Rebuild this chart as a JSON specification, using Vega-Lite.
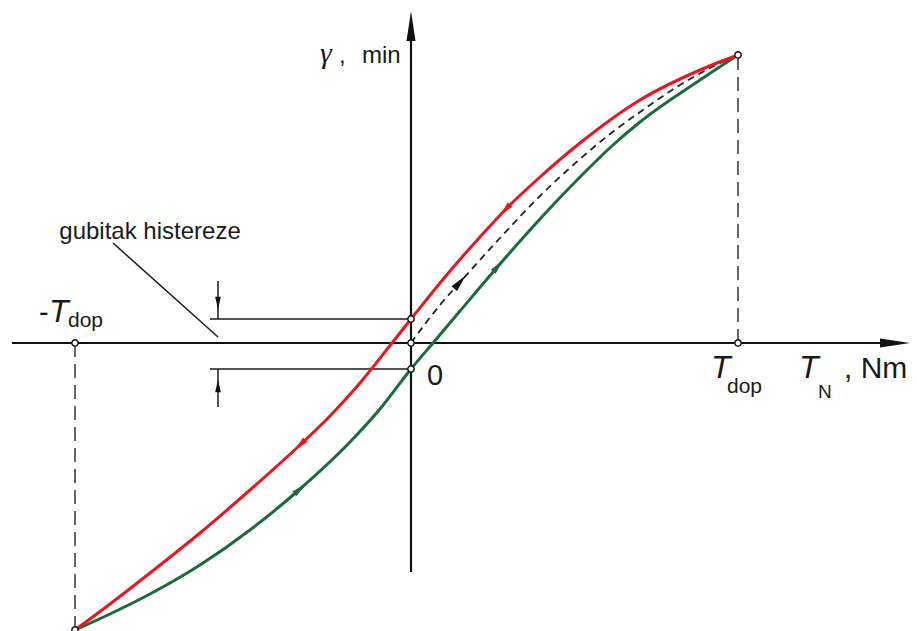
{
  "$schema": "https://vega.github.io/schema/vega-lite/v6.json",
  "width": 917,
  "height": 631,
  "autosize": {"type": "none"},
  "padding": 0,
  "background": "white",
  "config": {"view": {"stroke": null}},
  "datasets": {
    "red": [
      {"T": -336, "g": -287}, {"T": -301, "g": -261}, {"T": -261, "g": -230}, {"T": -211, "g": -190},
      {"T": -161, "g": -147}, {"T": -111, "g": -102}, {"T": -81, "g": -73}, {"T": -51, "g": -40},
      {"T": -19, "g": 0}, {"T": 0, "g": 24}, {"T": 39, "g": 72},
      {"T": 69, "g": 106}, {"T": 96, "g": 135}, {"T": 129, "g": 166}, {"T": 169, "g": 200},
      {"T": 229, "g": 243}, {"T": 289, "g": 273}, {"T": 327, "g": 288}
    ],
    "green": [
      {"T": -336, "g": -287}, {"T": -301, "g": -271}, {"T": -261, "g": -251}, {"T": -211, "g": -222},
      {"T": -161, "g": -187}, {"T": -111, "g": -146}, {"T": -61, "g": -99}, {"T": -31, "g": -66},
      {"T": 0, "g": -26}, {"T": 22, "g": 0}, {"T": 49, "g": 32}, {"T": 89, "g": 79},
      {"T": 129, "g": 124}, {"T": 169, "g": 166}, {"T": 202, "g": 198}, {"T": 229, "g": 221},
      {"T": 289, "g": 263}, {"T": 327, "g": 288}
    ],
    "virgin": [
      {"T": 0, "g": 0}, {"T": 14, "g": 19}, {"T": 29, "g": 38}, {"T": 51, "g": 63},
      {"T": 89, "g": 105}, {"T": 129, "g": 147}, {"T": 169, "g": 184}, {"T": 199, "g": 209},
      {"T": 229, "g": 231}, {"T": 269, "g": 258}, {"T": 299, "g": 275}, {"T": 327, "g": 288}
    ],
    "axes": [
      {"T": -399, "g": 0, "T2": 474, "g2": 0},
      {"T": 0, "g": -229, "T2": 0, "g2": 310}
    ],
    "dims": [
      {"T": -201, "g": 24, "T2": 0, "g2": 24},
      {"T": -201, "g": -26, "T2": 0, "g2": -26},
      {"T": -193, "g": 62, "T2": -193, "g2": 24},
      {"T": -193, "g": -26, "T2": -193, "g2": -64},
      {"T": -298, "g": 100, "T2": -193, "g2": 6}
    ],
    "drops": [
      {"T": 327, "g": 0, "T2": 327, "g2": 288},
      {"T": -336, "g": 0, "T2": -336, "g2": -287}
    ],
    "axisArrows": [
      {"T": 484, "g": 0, "dir": 90},
      {"T": 0, "g": 317, "dir": 0}
    ],
    "dimArrows": [
      {"T": -193, "g": 40, "dir": 180},
      {"T": -193, "g": -43, "dir": 0}
    ],
    "redArrows": [
      {"T": -111, "g": -102, "dir": 225},
      {"T": 94, "g": 133, "dir": 223}
    ],
    "greenArrows": [
      {"T": -111, "g": -146, "dir": 50},
      {"T": 87, "g": 77, "dir": 40}
    ],
    "blackArrows": [
      {"T": 49, "g": 61, "dir": 41}
    ],
    "points": [
      {"T": 0, "g": 24}, {"T": 0, "g": 0}, {"T": 0, "g": -26},
      {"T": 327, "g": 288}, {"T": 327, "g": 0},
      {"T": -336, "g": 0}, {"T": -336, "g": -287}
    ],
    "bigItalic": [
      {"T": -362, "g": 21, "label": "T"},
      {"T": 300, "g": -35, "label": "T"},
      {"T": 388, "g": -35, "label": "T"}
    ],
    "subs": [
      {"T": -343, "g": 16, "label": "dop"},
      {"T": 316, "g": -50, "label": "dop"}
    ],
    "subN": [
      {"T": 407, "g": -55, "label": "N"}
    ],
    "units": [
      {"T": 16, "g": -42, "label": "0"},
      {"T": -372, "g": 21, "label": "-"}
    ],
    "unitNm": [
      {"T": 433, "g": -35, "label": ", Nm"}
    ],
    "ylabel": [
      {"T": -72, "g": 280, "label": ","},
      {"T": -49, "g": 280, "label": "min"}
    ],
    "gamma": [
      {"T": -91, "g": 280, "label": "γ"}
    ],
    "note": [
      {"T": -261, "g": 104, "label": "gubitak histereze"}
    ]
  },
  "layer": [
    {
      "data": {"name": "drops"},
      "mark": {"type": "rule", "color": "#666666", "strokeWidth": 2, "strokeDash": [14, 7]},
      "encoding": {
        "x": {"field": "T", "type": "quantitative", "scale": {"domain": [-411, 506], "nice": false, "zero": false}, "axis": null},
        "x2": {"field": "T2"},
        "y": {"field": "g", "type": "quantitative", "scale": {"domain": [-288, 343], "nice": false, "zero": false}, "axis": null},
        "y2": {"field": "g2"}
      }
    },
    {
      "data": {"name": "dims"},
      "mark": {"type": "rule", "color": "#1a1a1a", "strokeWidth": 1.5},
      "encoding": {
        "x": {"field": "T", "type": "quantitative", "scale": {"domain": [-411, 506], "nice": false, "zero": false}, "axis": null},
        "x2": {"field": "T2"},
        "y": {"field": "g", "type": "quantitative", "scale": {"domain": [-288, 343], "nice": false, "zero": false}, "axis": null},
        "y2": {"field": "g2"}
      }
    },
    {
      "data": {"name": "axes"},
      "mark": {"type": "rule", "color": "#111111", "strokeWidth": 2.2},
      "encoding": {
        "x": {"field": "T", "type": "quantitative", "scale": {"domain": [-411, 506], "nice": false, "zero": false}, "axis": null},
        "x2": {"field": "T2"},
        "y": {"field": "g", "type": "quantitative", "scale": {"domain": [-288, 343], "nice": false, "zero": false}, "axis": null},
        "y2": {"field": "g2"}
      }
    },
    {
      "data": {"name": "virgin"},
      "mark": {"type": "line", "color": "#222222", "strokeWidth": 1.8, "strokeDash": [7, 5], "interpolate": "monotone"},
      "encoding": {
        "x": {"field": "T", "type": "quantitative", "scale": {"domain": [-411, 506], "nice": false, "zero": false}, "axis": null},
        "y": {"field": "g", "type": "quantitative", "scale": {"domain": [-288, 343], "nice": false, "zero": false}, "axis": null}
      }
    },
    {
      "data": {"name": "green"},
      "mark": {"type": "line", "color": "#1b6b3a", "strokeWidth": 3, "interpolate": "monotone"},
      "encoding": {
        "x": {"field": "T", "type": "quantitative", "scale": {"domain": [-411, 506], "nice": false, "zero": false}, "axis": null},
        "y": {"field": "g", "type": "quantitative", "scale": {"domain": [-288, 343], "nice": false, "zero": false}, "axis": null}
      }
    },
    {
      "data": {"name": "red"},
      "mark": {"type": "line", "color": "#e8161e", "strokeWidth": 3, "interpolate": "monotone"},
      "encoding": {
        "x": {"field": "T", "type": "quantitative", "scale": {"domain": [-411, 506], "nice": false, "zero": false}, "axis": null},
        "y": {"field": "g", "type": "quantitative", "scale": {"domain": [-288, 343], "nice": false, "zero": false}, "axis": null}
      }
    },
    {
      "data": {"name": "axisArrows"},
      "mark": {"type": "point", "shape": "M0,-1L0.3,1L-0.3,1Z", "filled": true, "color": "#111111", "opacity": 1, "size": 900},
      "encoding": {
        "x": {"field": "T", "type": "quantitative", "scale": {"domain": [-411, 506], "nice": false, "zero": false}, "axis": null},
        "y": {"field": "g", "type": "quantitative", "scale": {"domain": [-288, 343], "nice": false, "zero": false}, "axis": null},
        "angle": {"field": "dir", "type": "quantitative", "scale": null}
      }
    },
    {
      "data": {"name": "dimArrows"},
      "mark": {"type": "point", "shape": "M0,-1L0.45,1L-0.45,1Z", "filled": true, "color": "#111111", "opacity": 1, "size": 160},
      "encoding": {
        "x": {"field": "T", "type": "quantitative", "scale": {"domain": [-411, 506], "nice": false, "zero": false}, "axis": null},
        "y": {"field": "g", "type": "quantitative", "scale": {"domain": [-288, 343], "nice": false, "zero": false}, "axis": null},
        "angle": {"field": "dir", "type": "quantitative", "scale": null}
      }
    },
    {
      "data": {"name": "redArrows"},
      "mark": {"type": "point", "shape": "M0,-1L0.42,1L-0.42,1Z", "filled": true, "color": "#e8161e", "opacity": 1, "size": 220},
      "encoding": {
        "x": {"field": "T", "type": "quantitative", "scale": {"domain": [-411, 506], "nice": false, "zero": false}, "axis": null},
        "y": {"field": "g", "type": "quantitative", "scale": {"domain": [-288, 343], "nice": false, "zero": false}, "axis": null},
        "angle": {"field": "dir", "type": "quantitative", "scale": null}
      }
    },
    {
      "data": {"name": "greenArrows"},
      "mark": {"type": "point", "shape": "M0,-1L0.42,1L-0.42,1Z", "filled": true, "color": "#1b6b3a", "opacity": 1, "size": 220},
      "encoding": {
        "x": {"field": "T", "type": "quantitative", "scale": {"domain": [-411, 506], "nice": false, "zero": false}, "axis": null},
        "y": {"field": "g", "type": "quantitative", "scale": {"domain": [-288, 343], "nice": false, "zero": false}, "axis": null},
        "angle": {"field": "dir", "type": "quantitative", "scale": null}
      }
    },
    {
      "data": {"name": "blackArrows"},
      "mark": {"type": "point", "shape": "M0,-1L0.42,1L-0.42,1Z", "filled": true, "color": "#111111", "opacity": 1, "size": 300},
      "encoding": {
        "x": {"field": "T", "type": "quantitative", "scale": {"domain": [-411, 506], "nice": false, "zero": false}, "axis": null},
        "y": {"field": "g", "type": "quantitative", "scale": {"domain": [-288, 343], "nice": false, "zero": false}, "axis": null},
        "angle": {"field": "dir", "type": "quantitative", "scale": null}
      }
    },
    {
      "data": {"name": "points"},
      "mark": {"type": "point", "shape": "circle", "filled": false, "fill": "white", "fillOpacity": 1, "stroke": "#111111", "strokeWidth": 1.5, "opacity": 1, "size": 40},
      "encoding": {
        "x": {"field": "T", "type": "quantitative", "scale": {"domain": [-411, 506], "nice": false, "zero": false}, "axis": null},
        "y": {"field": "g", "type": "quantitative", "scale": {"domain": [-288, 343], "nice": false, "zero": false}, "axis": null}
      }
    },
    {
      "data": {"name": "bigItalic"},
      "mark": {"type": "text", "align": "left", "baseline": "alphabetic", "font": "Liberation Sans", "fontSize": 32, "fontStyle": "italic", "color": "#1a1a1a"},
      "encoding": {
        "x": {"field": "T", "type": "quantitative", "scale": {"domain": [-411, 506], "nice": false, "zero": false}, "axis": null},
        "y": {"field": "g", "type": "quantitative", "scale": {"domain": [-288, 343], "nice": false, "zero": false}, "axis": null},
        "text": {"field": "label"}
      }
    },
    {
      "data": {"name": "subs"},
      "mark": {"type": "text", "align": "left", "baseline": "alphabetic", "font": "Liberation Sans", "fontSize": 21, "color": "#1a1a1a"},
      "encoding": {
        "x": {"field": "T", "type": "quantitative", "scale": {"domain": [-411, 506], "nice": false, "zero": false}, "axis": null},
        "y": {"field": "g", "type": "quantitative", "scale": {"domain": [-288, 343], "nice": false, "zero": false}, "axis": null},
        "text": {"field": "label"}
      }
    },
    {
      "data": {"name": "subN"},
      "mark": {"type": "text", "align": "left", "baseline": "alphabetic", "font": "Liberation Sans", "fontSize": 19, "color": "#1a1a1a"},
      "encoding": {
        "x": {"field": "T", "type": "quantitative", "scale": {"domain": [-411, 506], "nice": false, "zero": false}, "axis": null},
        "y": {"field": "g", "type": "quantitative", "scale": {"domain": [-288, 343], "nice": false, "zero": false}, "axis": null},
        "text": {"field": "label"}
      }
    },
    {
      "data": {"name": "units"},
      "mark": {"type": "text", "align": "left", "baseline": "alphabetic", "font": "Liberation Sans", "fontSize": 29, "color": "#1a1a1a"},
      "encoding": {
        "x": {"field": "T", "type": "quantitative", "scale": {"domain": [-411, 506], "nice": false, "zero": false}, "axis": null},
        "y": {"field": "g", "type": "quantitative", "scale": {"domain": [-288, 343], "nice": false, "zero": false}, "axis": null},
        "text": {"field": "label"}
      }
    },
    {
      "data": {"name": "unitNm"},
      "mark": {"type": "text", "align": "left", "baseline": "alphabetic", "font": "Liberation Sans", "fontSize": 30, "color": "#1a1a1a"},
      "encoding": {
        "x": {"field": "T", "type": "quantitative", "scale": {"domain": [-411, 506], "nice": false, "zero": false}, "axis": null},
        "y": {"field": "g", "type": "quantitative", "scale": {"domain": [-288, 343], "nice": false, "zero": false}, "axis": null},
        "text": {"field": "label"}
      }
    },
    {
      "data": {"name": "ylabel"},
      "mark": {"type": "text", "align": "left", "baseline": "alphabetic", "font": "Liberation Sans", "fontSize": 24, "color": "#1a1a1a"},
      "encoding": {
        "x": {"field": "T", "type": "quantitative", "scale": {"domain": [-411, 506], "nice": false, "zero": false}, "axis": null},
        "y": {"field": "g", "type": "quantitative", "scale": {"domain": [-288, 343], "nice": false, "zero": false}, "axis": null},
        "text": {"field": "label"}
      }
    },
    {
      "data": {"name": "gamma"},
      "mark": {"type": "text", "align": "left", "baseline": "alphabetic", "font": "Liberation Serif", "fontSize": 30, "fontStyle": "italic", "color": "#1a1a1a"},
      "encoding": {
        "x": {"field": "T", "type": "quantitative", "scale": {"domain": [-411, 506], "nice": false, "zero": false}, "axis": null},
        "y": {"field": "g", "type": "quantitative", "scale": {"domain": [-288, 343], "nice": false, "zero": false}, "axis": null},
        "text": {"field": "label"}
      }
    },
    {
      "data": {"name": "note"},
      "mark": {"type": "text", "align": "center", "baseline": "alphabetic", "font": "Liberation Sans", "fontSize": 24, "color": "#1a1a1a"},
      "encoding": {
        "x": {"field": "T", "type": "quantitative", "scale": {"domain": [-411, 506], "nice": false, "zero": false}, "axis": null},
        "y": {"field": "g", "type": "quantitative", "scale": {"domain": [-288, 343], "nice": false, "zero": false}, "axis": null},
        "text": {"field": "label"}
      }
    }
  ]
}
